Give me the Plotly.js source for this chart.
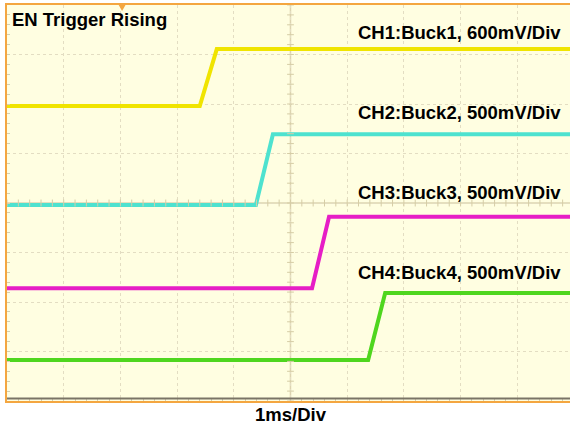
<!DOCTYPE html>
<html>
<head>
<meta charset="utf-8">
<script src="https://cdn.plot.ly/plotly-3.0.1.min.js"></script>
<style>html,body{margin:0;padding:0;background:#fff;}#chart{width:570px;height:428px;}</style>
</head>
<body>
<div id="chart"></div>
<script>
// time in divisions (1 ms/Div), level in divisions
const ch1Time = [0, 3.40, 3.70, 10];
const ch1Level = [5.96, 5.96, 7.11, 7.11];
const ch2Time = [0, 4.39, 4.69, 10];
const ch2Level = [3.96, 3.96, 5.39, 5.39];
const ch3Time = [0, 5.38, 5.68, 10];
const ch3Level = [2.28, 2.28, 3.72, 3.72];
const ch4Time = [0, 6.37, 6.67, 10];
const ch4Level = [0.83, 0.83, 2.18, 2.18];
const channelLabels = ["CH1:Buck1, 600mV/Div", "CH2:Buck2, 500mV/Div", "CH3:Buck3, 500mV/Div", "CH4:Buck4, 500mV/Div"];
const labelLevels = [7.45, 5.83, 4.22, 2.6];
const channelColors = ["#f0e400", "#4ee2cf", "#e61ec6", "#4fd61e"];

const series = [[ch1Time, ch1Level], [ch2Time, ch2Level], [ch3Time, ch3Level], [ch4Time, ch4Level]];
const traces = series.map((s, i) => ({
  x: s[0], y: s[1], type: 'scatter', mode: 'lines',
  line: {color: channelColors[i], width: 4}, hoverinfo: 'skip', showlegend: false
}));

const font = {family: 'Liberation Sans, Arial, sans-serif', size: 18.5, color: '#000'};
const annotations = channelLabels.map((t, i) => ({
  text: '<b>' + t + '</b>', x: 0.987, xref: 'paper', xanchor: 'right',
  y: labelLevels[i], yref: 'y', yanchor: 'middle', showarrow: false, font: font
}));
annotations.push({text: '<b>EN Trigger Rising</b>', x: 0.006, xref: 'paper', xanchor: 'left',
  y: 0.995, yref: 'paper', yanchor: 'top', showarrow: false, font: Object.assign({}, font, {size: 18.5})});
annotations.push({text: '<b>1ms/Div</b>', x: 0.505, xref: 'paper', xanchor: 'center',
  y: -0.002, yref: 'paper', yanchor: 'top', showarrow: false, font: Object.assign({}, font, {size: 18.5})});

const xr = [0, 9.93];
const layout = {
  width: 570, height: 428,
  margin: {l: 7, r: 0, t: 5, b: 27},
  paper_bgcolor: '#ffffff', plot_bgcolor: '#fffee1',
  xaxis: {range: xr, dtick: 1, tick0: 0, showticklabels: false, showgrid: true,
    gridcolor: '#e3ddc2', griddash: 'dot', gridwidth: 1, zeroline: false,
    showline: true, linecolor: '#f4a640', linewidth: 2, mirror: true,
    ticks: 'inside', ticklen: 3, tickcolor: '#d6cfb0',
    minor: {dtick: 0.2, ticks: 'inside', ticklen: 3, tickcolor: '#d6cfb0', showgrid: false}},
  yaxis: {range: [0, 8], dtick: 1, tick0: 0, showticklabels: false, showgrid: true,
    gridcolor: '#e3ddc2', griddash: 'dot', gridwidth: 1, zeroline: false,
    showline: true, linecolor: '#f4a640', linewidth: 2, mirror: false,
    ticks: 'inside', ticklen: 3, tickcolor: '#d6cfb0',
    minor: {dtick: 0.2, ticks: 'inside', ticklen: 3, tickcolor: '#d6cfb0', showgrid: false}},
  shapes: [
    {type: 'line', xref: 'x', yref: 'paper', x0: 5, x1: 5, y0: 0, y1: 1, line: {color: '#ddd4b0', width: 1.5}, layer: 'below'},
    {type: 'line', xref: 'paper', yref: 'y', x0: 0, x1: 1, y0: 4, y1: 4, line: {color: '#ddd4b0', width: 1.5}, layer: 'below'},
    {type: 'line', xref: 'paper', yref: 'paper', x0: 0, x1: 1, y0: 0.006, y1: 0.006, line: {color: '#7a7466', width: 2}},
    {type: 'path', xref: 'x', yref: 'paper', path: 'M 1.97 1 L 2.09 1 L 2.03 0.985 Z', fillcolor: '#f4a640', line: {width: 0}}
  ],
  annotations: annotations
};
// center tick marks on the cross lines
const ctrTicks = [];
for (let k = 0; k <= 50; k++) {
  const xv = k * 0.2;
  ctrTicks.push({type: 'line', xref: 'x', yref: 'y', x0: xv, x1: xv, y0: 3.93, y1: 4.07, line: {color: '#d6cda6', width: 1}});
}
for (let k = 0; k <= 40; k++) {
  const yv = k * 0.2;
  ctrTicks.push({type: 'line', xref: 'x', yref: 'y', x0: 4.94, x1: 5.06, y0: yv, y1: yv, line: {color: '#d6cda6', width: 1}});
}
layout.shapes = ctrTicks.concat(layout.shapes);
Plotly.newPlot('chart', traces, layout, {displayModeBar: false, staticPlot: true});
</script>
</body>
</html>
